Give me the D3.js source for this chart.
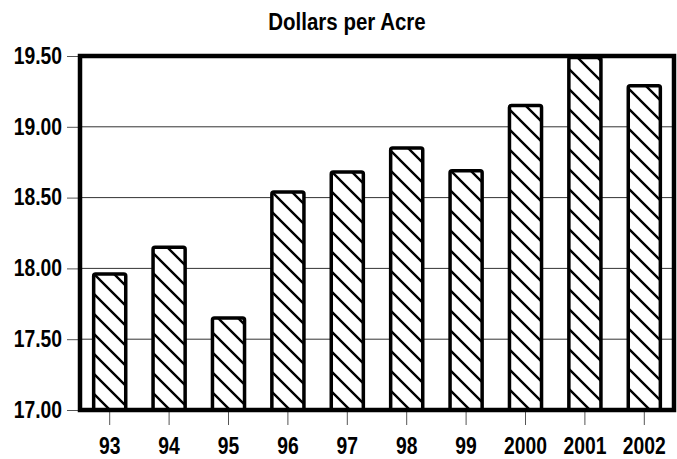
<!DOCTYPE html>
<html><head><meta charset="utf-8">
<script src="https://cdn.jsdelivr.net/npm/d3@7"></script>
<style>
body{margin:0;background:#fff;}
text{font-family:"Liberation Sans",Arial,sans-serif;font-weight:bold;}
</style></head>
<body><svg id="c" width="677" height="459"></svg>
<script>
const categories = ["93","94","95","96","97","98","99","2000","2001","2002"];
const values = [17.96,18.15,17.65,18.54,18.68,18.85,18.69,19.15,19.49,19.29];
const yTicks = [17.0,17.5,18.0,18.5,19.0,19.5];
const title = "Dollars per Acre";

const svg = d3.select("#c");
const m = {l:80, r:674, t:56, b:410};
const x = d3.scaleBand().domain(categories).range([m.l, m.r]).paddingInner(0.46).paddingOuter(0.23);
const y = d3.scaleLinear().domain([17,19.5]).range([m.b, m.t]);

function condense(sel, k){
  sel.each(function(){
    const w = this.getComputedTextLength();
    d3.select(this).attr("textLength", w*k).attr("lengthAdjust","spacingAndGlyphs");
  });
}

const defs = svg.append("defs");
const pat = defs.append("pattern").attr("id","hatch").attr("patternUnits","userSpaceOnUse")
  .attr("width",20).attr("height",20);
pat.append("rect").attr("width",20).attr("height",20).attr("fill","#fff");
pat.append("path").attr("d","M-5,-5L25,25M-5,15L5,25M15,-5L25,5").attr("stroke","#000").attr("stroke-width",2.4);

const t = svg.append("text").attr("x",347).attr("y",30).attr("text-anchor","middle")
  .attr("font-size",23).attr("fill","#000").text(title);
condense(t, 0.89);

// gridlines
svg.append("g").selectAll("line").data(yTicks.slice(1,-1)).join("line")
  .attr("x1",m.l).attr("x2",m.r).attr("y1",d=>y(d)).attr("y2",d=>y(d))
  .attr("stroke","#333").attr("stroke-width",1);

// y axis
const yAxis = d3.axisLeft(y).tickValues(yTicks).tickFormat(d3.format(".2f")).tickSize(13).tickPadding(5);
const ya = svg.append("g").attr("transform",`translate(${m.l},0)`).call(yAxis);
ya.select(".domain").remove();
ya.selectAll(".tick line").attr("stroke","#555");
ya.selectAll(".tick text").attr("font-size",23).attr("fill","#000").attr("font-family",null);
condense(ya.selectAll(".tick text"), 0.84);

// x axis
const xAxis = d3.axisBottom(x).tickSize(15).tickPadding(13);
const xa = svg.append("g").attr("transform",`translate(0,${m.b})`).call(xAxis);
xa.select(".domain").remove();
xa.selectAll(".tick line").attr("stroke","#555");
xa.selectAll(".tick text").attr("font-size",23).attr("fill","#000").attr("font-family",null);
condense(xa.selectAll(".tick text"), 0.84);

// bars
svg.append("g").selectAll("rect").data(values).join("rect")
  .attr("x",(d,i)=>x(categories[i])).attr("width",x.bandwidth())
  .attr("y",d=>y(d)).attr("height",d=>y(17)-y(d))
  .attr("rx",2).attr("fill","url(#hatch)").attr("stroke","#000").attr("stroke-width",3.5);

// frame
svg.append("rect").attr("x",m.l).attr("y",m.t).attr("width",m.r-m.l).attr("height",m.b-m.t)
  .attr("fill","none").attr("stroke","#000").attr("stroke-width",4.5);
</script></body></html>
